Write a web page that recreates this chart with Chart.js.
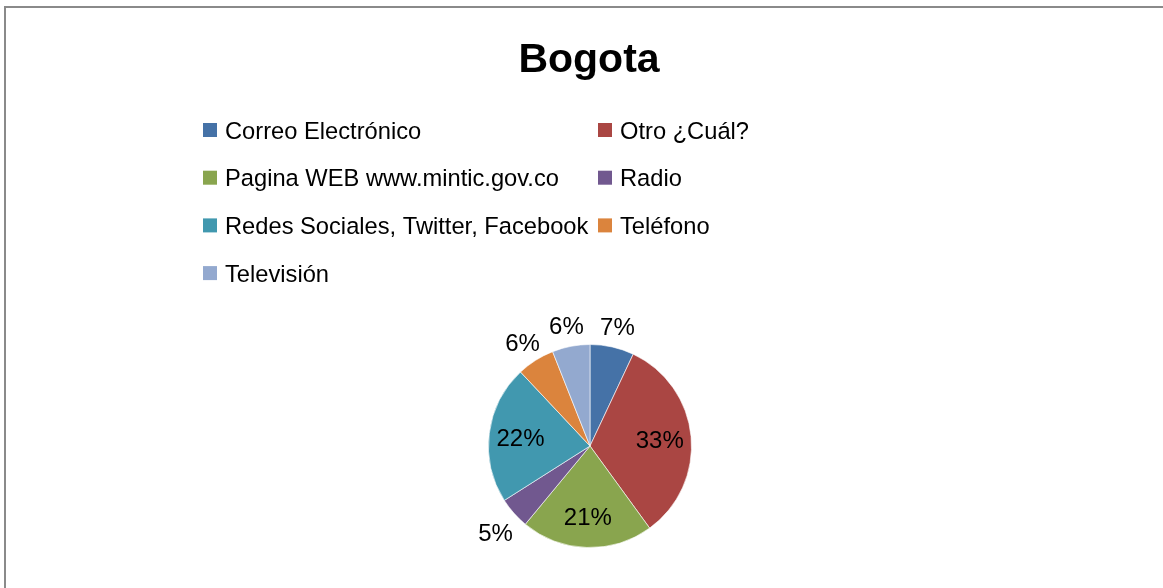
<!DOCTYPE html>
<html>
<head>
<meta charset="utf-8">
<script src="https://cdn.jsdelivr.net/npm/chart.js@4"></script>
<style>
  html, body { margin: 0; padding: 0; background: #fff; }
  #wrap { position: relative; width: 1163px; height: 588px; }
  #frame { position: absolute; left: 4px; top: 6px; right: 0; bottom: 0; border-top: 2px solid #8a8a8a; border-left: 2px solid #8a8a8a; }
  canvas { position: absolute; left: 0; top: 0; }
</style>
</head>
<body>
<div id="wrap">
  <div id="frame"></div>
  <canvas id="pie" width="1163" height="588"></canvas>
</div>
<script>
// datos
const chartTitle = 'Bogota';
const categorias = ['Correo Electrónico', 'Otro ¿Cuál?', 'Pagina WEB www.mintic.gov.co', 'Radio',
                    'Redes Sociales, Twitter, Facebook', 'Teléfono', 'Televisión'];
const porcentajes = [7, 33, 21, 5, 22, 6, 6];
const colores = ['#4572A7', '#AA4643', '#89A54E', '#71588F', '#4198AF', '#DB843D', '#93A9CF'];

const FONT = '"Liberation Sans", Arial, sans-serif';

// titulo + leyenda en dos columnas + etiquetas de porcentaje
const extras = {
    id: 'extras',
    afterDraw(chart) {
        const ctx = chart.ctx;
        ctx.save();

        // titulo
        ctx.fillStyle = '#000';
        ctx.font = 'bold 41px ' + FONT;
        ctx.textAlign = 'center';
        ctx.textBaseline = 'alphabetic';
        ctx.fillText(chartTitle, 589, 72);

        // leyenda
        const colX = [203, 598];
        ctx.font = '23.7px ' + FONT;
        ctx.textAlign = 'left';
        ctx.textBaseline = 'middle';
        categorias.forEach(function(cat, i) {
            const x = colX[i % 2];
            const y = 130 + Math.floor(i / 2) * 47.7;
            ctx.fillStyle = colores[i];
            ctx.fillRect(x, y - 7, 14, 14);
            ctx.fillStyle = '#000';
            ctx.fillText(cat, x + 22, y + 2);
        });

        // etiquetas
        const meta = chart.getDatasetMeta(0);
        ctx.font = '24px ' + FONT;
        ctx.textAlign = 'center';
        meta.data.forEach(function(arc, i) {
            const p = arc.getProps(['x', 'y', 'startAngle', 'endAngle', 'outerRadius'], true);
            const mid = (p.startAngle + p.endAngle) / 2;
            const dentro = porcentajes[i] >= 10;
            const f = dentro ? 0.69 : 1.24;
            const lx = p.x + Math.cos(mid) * p.outerRadius * f;
            const ly = p.y + Math.sin(mid) * p.outerRadius * f;
            ctx.fillStyle = '#000';
            ctx.fillText(porcentajes[i] + '%', lx, ly + (dentro ? 2 : 5));
        });
        ctx.restore();
    }
};

new Chart(document.getElementById('pie'), {
    type: 'pie',
    data: {
        labels: categorias,
        datasets: [{
            data: porcentajes,
            backgroundColor: colores,
            borderColor: 'rgba(255,255,255,0.6)',
            borderWidth: 1
        }]
    },
    options: {
        responsive: false,
        animation: false,
        layout: { padding: { left: 488, right: 471, top: 344, bottom: 40 } },
        plugins: {
            legend: { display: false },
            title: { display: false },
            tooltip: { enabled: false }
        }
    },
    plugins: [extras]
});
</script>
</body>
</html>
